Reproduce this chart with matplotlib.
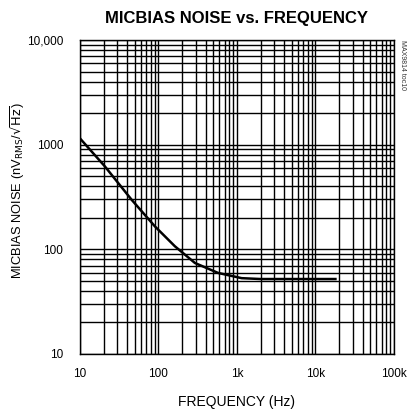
import matplotlib.pyplot as plt
from matplotlib.ticker import LogLocator, NullFormatter, FixedLocator

plt.rcParams['font.family'] = ['Liberation Sans', 'DejaVu Sans']

# curve
freq = [10, 20.8, 45.5, 90, 162, 292, 575, 1150, 2000, 5000, 10000, 18000]
noise = [1150, 620, 298, 166, 107, 74, 59.5, 53, 52, 52, 52, 52]

xticks = [10, 100, 1000, 10000, 100000]
xlabels = ['10', '100', '1k', '10k', '100k']
yticks = [10, 100, 1000, 10000]
ylabels = ['10', '100', '1000', '10,000']

fig = plt.figure(figsize=(4.12, 4.13), dpi=100)
ax = fig.add_axes([0.194, 0.143, 0.762, 0.760])

ax.set_xscale('log')
ax.set_yscale('log')
ax.set_xlim(10, 100000)
ax.set_ylim(10, 10000)

ax.xaxis.set_major_locator(FixedLocator(xticks))
ax.yaxis.set_major_locator(FixedLocator(yticks))
ax.xaxis.set_minor_locator(LogLocator(base=10, subs=range(2, 10)))
ax.yaxis.set_minor_locator(LogLocator(base=10, subs=range(2, 10)))
ax.xaxis.set_minor_formatter(NullFormatter())
ax.yaxis.set_minor_formatter(NullFormatter())
ax.set_xticklabels(xlabels, fontsize=8.5)
ax.set_yticklabels(ylabels, fontsize=8.5)
ax.tick_params(axis='x', which='both', length=0, pad=10)
ax.tick_params(axis='y', which='both', length=0, pad=12)

ax.grid(which='both', color='black', linewidth=1.0)
for s in ax.spines.values():
    s.set_color('black')
    s.set_linewidth(1.0)

ax.plot(freq, noise, color='black', linewidth=1.8, zorder=3)

ax.set_title('MICBIAS NOISE vs. FREQUENCY', fontsize=12, fontweight='bold', pad=12)
ax.set_xlabel('FREQUENCY (Hz)', fontsize=10, labelpad=11)
ax.set_ylabel(r'MICBIAS NOISE (nV$_{\mathrm{RMS}}$/$\sqrt{\mathrm{Hz}}$)', fontsize=9.3)
ax.yaxis.set_label_coords(-0.17, 0.52)

fig.text(0.978, 0.843, 'MAX9814 toc10', rotation=-90, fontsize=5, color='#333333',
         ha='center', va='center')

fig.savefig('out.png', dpi=100)
